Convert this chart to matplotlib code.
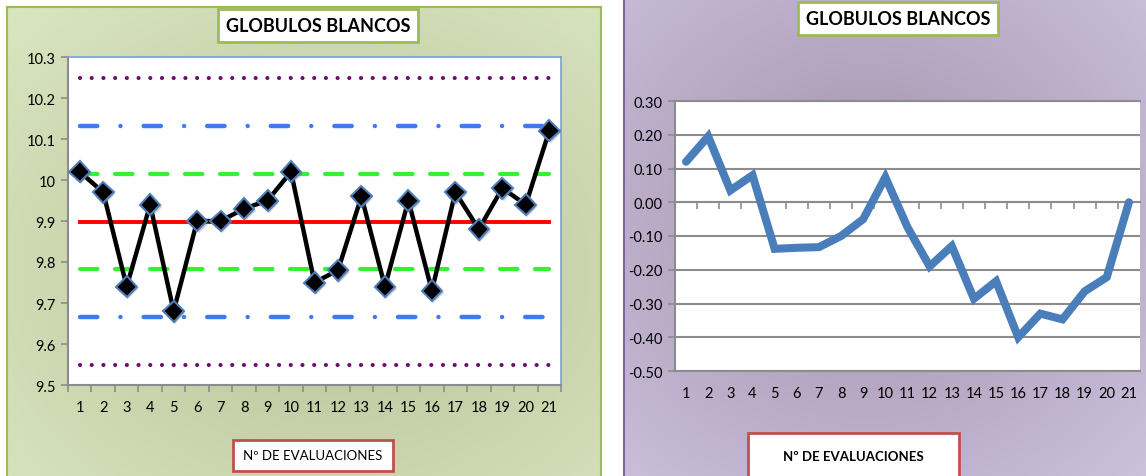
import numpy as np
import matplotlib
matplotlib.use("Agg")
import matplotlib.pyplot as plt
import matplotlib.patheffects as pe
from matplotlib.patches import Rectangle

W, H = 1146, 477
plt.rcParams["font.family"] = ["Lato", "DejaVu Sans"]

# evaluation index and white blood cell results
evals = list(range(1, 22))
wbc = [10.02, 9.97, 9.74, 9.94, 9.68, 9.90, 9.90, 9.93, 9.95, 10.02, 9.75,
       9.78, 9.96, 9.74, 9.95, 9.73, 9.97, 9.88, 9.98, 9.94, 10.12]
# control limits (mean, +-1s, +-2s, +-3s)
center = 9.898
limits_1s = [10.015, 9.782]
limits_2s = [10.131, 9.665]
limits_3s = [10.248, 9.548]
# cumulative deviation from the mean
cusum = [0.12, 0.195, 0.035, 0.08, -0.138, -0.135, -0.133, -0.10, -0.05,
         0.074, -0.074, -0.19, -0.13, -0.286, -0.234, -0.40, -0.33, -0.347,
         -0.264, -0.222, 0.0]

GRAY = "#8c8c8c"


def fig_rect(x0, y0, x1, y1):
    return [x0 / W, 1 - y1 / H, (x1 - x0) / W, (y1 - y0) / H]


def gradient_panel(fig, box, inner, outer, cx, cy, edge, lw=1.5):
    ax = fig.add_axes(fig_rect(*box), zorder=-10)
    yy, xx = np.mgrid[0:1:200j, 0:1:300j]
    d = np.sqrt(((xx - cx) / 0.75) ** 2 + ((yy - cy) / 0.75) ** 2)
    d = np.clip(d, 0, 1)[..., None]
    c_in = np.array(matplotlib.colors.to_rgb(inner))
    c_out = np.array(matplotlib.colors.to_rgb(outer))
    img = c_in * (1 - d) + c_out * d
    ax.imshow(img, extent=[0, 1, 0, 1], origin="upper", aspect="auto")
    ax.add_patch(Rectangle((0, 0), 1, 1, transform=ax.transAxes, fill=False,
                           ec=edge, lw=lw, clip_on=False))
    ax.set_xlim(0, 1)
    ax.set_ylim(0, 1)
    ax.axis("off")
    return ax


def label_box(fig, box, text, edge, weight, size, text_y=None):
    x0, y0, x1, y1 = box
    if text_y is None:
        text_y = (y0 + y1) / 2
    fig.add_artist(Rectangle((x0 / W, 1 - y1 / H), (x1 - x0) / W,
                             (y1 - y0) / H, transform=fig.transFigure,
                             fc="white", ec=edge, lw=2, zorder=20))
    fig.text((x0 + x1) / 2 / W, 1 - text_y / H, text, ha="center",
             va="center", fontsize=size, fontweight=weight, zorder=21)


fig = plt.figure(figsize=(W / 100, H / 100), dpi=100)

# panel backgrounds
gradient_panel(fig, (7, 8, 601, 490), "#b8c199", "#d9e5bf", 0.55, 0.55,
               "#9bbb59")
gradient_panel(fig, (624, -5, 1160, 490), "#a392ab", "#cdc1de", 0.45, 0.45,
               "#8064a2")

# control chart
ax1 = fig.add_axes(fig_rect(68, 58, 561, 386))
ax1.set_facecolor("white")
xs = [evals[0], evals[-1]]
for v in limits_3s:
    ax1.plot(xs, [v, v], color="#6a1170", lw=3.0, dashes=(0.01, 2.8),
             dash_capstyle="round", zorder=2)
for v in limits_2s:
    ax1.plot(xs, [v, v], color="#4179f0", lw=3.2,
             dashes=(3.9, 5.2, 0.01, 5.2), dash_capstyle="round", zorder=2)
for v in limits_1s:
    ax1.plot(xs, [v, v], color="#33f233", lw=3.0, dashes=(4.2, 4.2),
             dash_capstyle="round", zorder=2)
ax1.plot(xs, [center, center], color="#ff0000", lw=2.8, zorder=3)
ax1.plot(evals, wbc, color="black", lw=3.2, zorder=4)
ax1.plot(evals, wbc, ls="none", marker="D", ms=10.5, mfc="black",
         mec="#4f7eb9", mew=1.5, zorder=5,
         path_effects=[pe.SimplePatchShadow(offset=(1, -1.5),
                                            shadow_rgbFace="#777777",
                                            alpha=0.35), pe.Normal()])
ax1.set_xlim(0.5, 21.5)
ax1.set_ylim(9.5, 10.3)
yt = np.round(np.arange(9.5, 10.31, 0.1), 1)
ax1.set_yticks(yt)
ax1.set_yticklabels([f"{v:g}" for v in yt])
ax1.set_xticks(evals)
ax1.set_xticks(np.arange(0.5, 22, 1), minor=True)
ax1.tick_params(axis="x", which="major", length=0, pad=11, labelsize=10.5)
ax1.tick_params(axis="x", which="minor", length=5, color=GRAY, width=1.2)
ax1.tick_params(axis="y", length=5, color=GRAY, width=1.2, labelsize=10.5,
                pad=4)
for s in ("top", "right"):
    ax1.spines[s].set_color("#7da0cf")
    ax1.spines[s].set_linewidth(1.2)
for s in ("left", "bottom"):
    ax1.spines[s].set_color(GRAY)
    ax1.spines[s].set_linewidth(1.5)

# cumulative sum chart
ax2 = fig.add_axes(fig_rect(675, 102, 1140, 372))
ax2.set_facecolor("white")
ax2.set_xlim(0.5, 21.5)
ax2.set_ylim(-0.5, 0.3)
yt2 = np.round(np.arange(-0.5, 0.31, 0.1), 2)
ax2.set_yticks(yt2)
ax2.set_yticklabels([f"{v + 0:.2f}" for v in yt2])
ax2.yaxis.grid(True, color=GRAY, lw=1.5)
ax2.set_axisbelow(True)
ax2.plot(evals, cusum, color="#4a7ebb", lw=5.8, solid_joinstyle="miter",
         solid_capstyle="round", zorder=3)
ax2.set_xticks(evals)
ax2.tick_params(axis="x", length=0, pad=11, labelsize=10.5)
ax2.tick_params(axis="y", length=5, color=GRAY, width=1.2, labelsize=10.5,
                pad=4)
ax2.spines["right"].set_visible(False)
for s in ("left", "bottom", "top"):
    ax2.spines[s].set_color(GRAY)
    ax2.spines[s].set_linewidth(1.5)
zero = ax2.secondary_xaxis(0, transform=ax2.transData)
zero.set_xticks(np.arange(1.5, 21, 1))
zero.set_xticks([], minor=True)
zero.tick_params(axis="x", length=5, color=GRAY, width=1.2, direction="out",
                 labeltop=False, labelbottom=False)
zero.spines["top"].set_color(GRAY)
zero.spines["bottom"].set_color(GRAY)
zero.spines["top"].set_linewidth(1.5)
zero.spines["bottom"].set_linewidth(1.5)

# titles and axis captions
label_box(fig, (218, 10, 418, 43), "GLOBULOS BLANCOS", "#9bbb59", "bold",
          13)
label_box(fig, (798, 3, 998, 36), "GLOBULOS BLANCOS", "#9bbb59", "bold",
          13)
label_box(fig, (233, 441, 393, 472), "Nº DE EVALUACIONES", "#c0504d",
          "normal", 9.5)
label_box(fig, (748, 434, 959, 495), "Nº DE EVALUACIONES", "#c0504d",
          "bold", 9.5, text_y=457)

fig.savefig("out.png", dpi=100)
